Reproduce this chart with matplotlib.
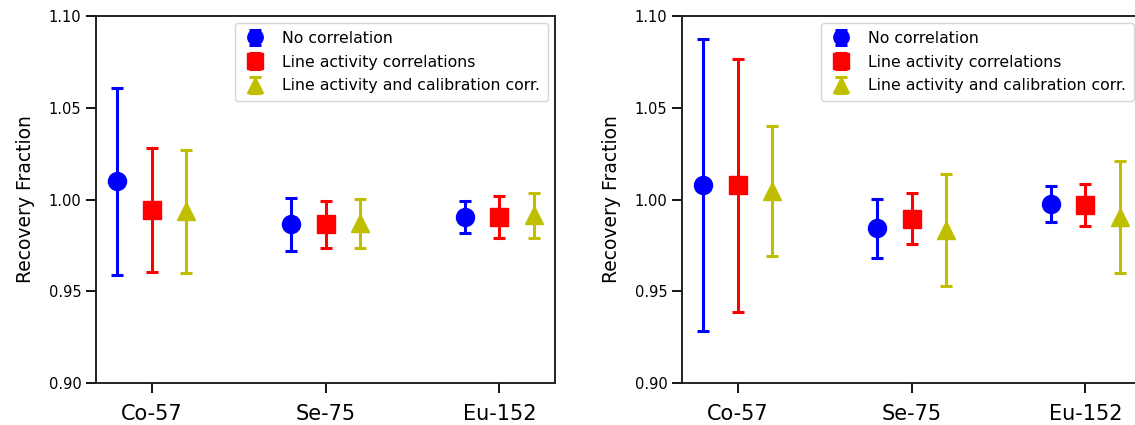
#!/usr/bin/env python3
import numpy as np
import matplotlib
matplotlib.use("Agg")
import matplotlib.pyplot as plt
from matplotlib.ticker import FormatStrFormatter

# --- Data ---

isotopes = ["Co-57", "Se-75", "Eu-152"]
labels = ["No correlation", "Line activity correlations",
          "Line activity and calibration corr."]

# left panel
left_no_corr = [1.010, 0.9865, 0.9905]
left_no_corr_err = [0.051, 0.0143, 0.0085]
left_line = [0.9945, 0.9865, 0.9905]
left_line_err = [0.0338, 0.0128, 0.0114]
left_calib = [0.9935, 0.9870, 0.9915]
left_calib_err = [0.0335, 0.0134, 0.0123]

# right panel
right_no_corr = [1.0078, 0.9842, 0.9978]
right_no_corr_err = [0.0797, 0.0160, 0.0098]
right_line = [1.0078, 0.9895, 0.9969]
right_line_err = [0.0690, 0.0140, 0.0113]
right_calib = [1.0045, 0.9833, 0.9905]
right_calib_err = [0.0353, 0.0307, 0.0307]

styles = [("b", "o"), ("r", "s"), ("y", "^")]
offsets = [-0.2, 0.0, 0.2]


def draw_panel(ax, series, errors):
    x = np.arange(len(isotopes))
    for (col, mk), off, vals, errs, lab in zip(styles, offsets, series, errors, labels):
        ax.errorbar(x + off, vals, yerr=errs, fmt=mk, color=col, ms=13,
                    elinewidth=2.2, capsize=4.5, capthick=2.2, label=lab)
    ax.set_xticks(x)
    ax.set_xticklabels(isotopes, fontsize=15)
    ax.set_ylim(0.90, 1.10)
    ax.set_yticks([0.90, 0.95, 1.00, 1.05, 1.10])
    ax.yaxis.set_major_formatter(FormatStrFormatter("%.2f"))
    ax.tick_params(axis="y", labelsize=10.5, length=7, width=1.3)
    ax.tick_params(axis="x", length=7, width=1.3, pad=8)
    ax.set_ylabel("Recovery Fraction", fontsize=13.5, labelpad=10)
    for sp in ax.spines.values():
        sp.set_linewidth(1.4)
        sp.set_color("#222222")
    ax.legend(loc="upper right", fontsize=11.3, markerscale=0.85,
              handlelength=1.6, handletextpad=0.9, borderaxespad=0.45,
              labelspacing=0.55, borderpad=0.5)


fig = plt.figure(figsize=(11.35, 4.25), dpi=100)
ax1 = fig.add_axes([96 / 1135, 42 / 425, 459 / 1135, 367 / 425])
ax2 = fig.add_axes([682 / 1135, 42 / 425, 459 / 1135, 367 / 425])

draw_panel(ax1, [left_no_corr, left_line, left_calib],
           [left_no_corr_err, left_line_err, left_calib_err])
draw_panel(ax2, [right_no_corr, right_line, right_calib],
           [right_no_corr_err, right_line_err, right_calib_err])

fig.savefig("out.png", dpi=100)
